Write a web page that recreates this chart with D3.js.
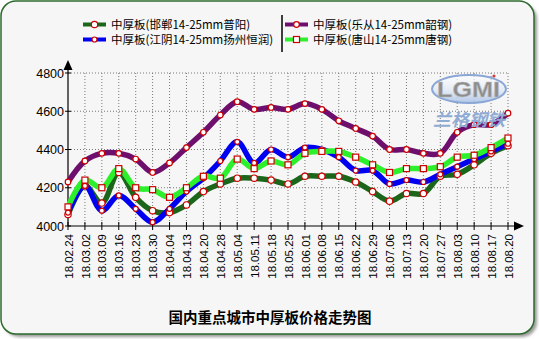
<!DOCTYPE html>
<html>
<head>
<meta charset="utf-8">
<script src="https://cdn.jsdelivr.net/npm/d3@7"></script>
<style>
  html, body { margin: 0; padding: 0; background: #ffffff; }
  svg { display: block; }
</style>
</head>
<body>
<svg id="chart" width="539" height="339"></svg>
<script>
// Weekly dates (yy.mm.dd)
const categories = ["18.02.24","18.03.02","18.03.09","18.03.16","18.03.23","18.03.30","18.04.04",
  "18.04.13","18.04.20","18.04.28","18.05.04","18.05.11","18.05.18","18.05.25","18.06.01",
  "18.06.08","18.06.15","18.06.22","18.06.29","18.07.06","18.07.13","18.07.20","18.07.27",
  "18.08.03","18.08.10","18.08.17","18.08.20"];

// Prices, yuan/ton
const handan = [4060,4210,4120,4280,4150,4080,4070,4110,4180,4220,4250,4250,4240,4220,4260,
  4260,4260,4230,4180,4130,4170,4170,4260,4270,4320,4380,4420];
const jiangyin = [4070,4210,4080,4160,4090,4020,4090,4180,4250,4340,4440,4330,4400,4360,4410,
  4400,4360,4290,4290,4220,4240,4230,4270,4310,4350,4390,4430];
const lecong = [4230,4340,4380,4380,4350,4280,4330,4410,4490,4580,4650,4610,4620,4610,4640,
  4610,4550,4510,4470,4400,4400,4380,4380,4490,4530,4530,4590];
const tangshan = [4100,4240,4200,4300,4200,4190,4150,4200,4260,4250,4350,4300,4340,4320,4380,
  4390,4390,4360,4320,4280,4300,4300,4310,4360,4370,4410,4460];

const seriesNames = ["中厚板(邯郸14-25mm普阳)","中厚板(江阴14-25mm扬州恒润)",
  "中厚板(乐从14-25mm韶钢)","中厚板(唐山14-25mm唐钢)"];
const yTicks = [4000,4200,4400,4600,4800];
const title = "国内重点城市中厚板价格走势图";

const series = [
  {name: seriesNames[0], values: handan,   color: "#1b661b", marker: "circle", r: 3.2},
  {name: seriesNames[2], values: lecong,   color: "#6e0f6e", marker: "circle", r: 2.8},
  {name: seriesNames[1], values: jiangyin, color: "#0000f0", marker: "circle", r: 2.5},
  {name: seriesNames[3], values: tangshan, color: "#2cf02c", marker: "square", r: 3}
];

const svg = d3.select("#chart");
const defs = svg.append("defs");

// frame with soft shadow
const shadow = defs.append("filter").attr("id", "shadow").attr("x", "-5%").attr("y", "-5%")
  .attr("width", "115%").attr("height", "115%");
shadow.append("feGaussianBlur").attr("stdDeviation", 1.5);

svg.append("rect").attr("x", 4).attr("y", 4).attr("width", 533).attr("height", 333)
  .attr("rx", 15).attr("fill", "#9a9a9a").attr("filter", "url(#shadow)");
svg.append("rect").attr("x", 1).attr("y", 1).attr("width", 533).attr("height", 333)
  .attr("rx", 15).attr("fill", "#f6f6f6").attr("stroke", "#2d6b2d").attr("stroke-width", 1.5);

const x = d3.scalePoint().domain(categories).range([68, 508]);
const y = d3.scaleLinear().domain([4000, 4800]).range([226, 73]);

const plot = svg.append("g");

// dotted grid
plot.append("g").selectAll("line").data(categories.slice(1)).join("line")
  .attr("x1", d => x(d)).attr("x2", d => x(d)).attr("y1", y(4800)).attr("y2", y(4000))
  .attr("stroke", "#7a7a7a").attr("stroke-width", 1).attr("stroke-dasharray", "1,2");
plot.append("g").selectAll("line").data(yTicks.slice(1)).join("line")
  .attr("x1", x(categories[0])).attr("x2", x(categories[categories.length - 1]))
  .attr("y1", d => y(d)).attr("y2", d => y(d))
  .attr("stroke", "#7a7a7a").attr("stroke-width", 1).attr("stroke-dasharray", "1,2");

// logo
const grad = defs.append("linearGradient").attr("id", "logoFill")
  .attr("x1", 0).attr("y1", 0).attr("x2", 0).attr("y2", 1);
grad.append("stop").attr("offset", "0%").attr("stop-color", "#ffffff").attr("stop-opacity", 0.6);
grad.append("stop").attr("offset", "55%").attr("stop-color", "#dfe8f5").attr("stop-opacity", 0.8);
grad.append("stop").attr("offset", "100%").attr("stop-color", "#a9c1e6").attr("stop-opacity", 0.9);
const logo = svg.append("g");
logo.append("ellipse").attr("cx", 469).attr("cy", 89).attr("rx", 37).attr("ry", 14)
  .attr("fill", "url(#logoFill)").attr("stroke", "#8aa6d6").attr("stroke-width", 2);
logo.append("text").attr("x", 437).attr("y", 97).attr("textLength", 63)
  .attr("lengthAdjust", "spacingAndGlyphs")
  .attr("font-family", "Liberation Sans, Arial, sans-serif").attr("font-weight", "bold")
  .attr("font-size", 22).attr("fill", "#8c8c8c").attr("stroke", "#bdbdbd").attr("stroke-width", 0.6)
  .text("LGMI");
logo.append("circle").attr("cx", 494).attr("cy", 76).attr("r", 1.6).attr("fill", "#d04040");
logo.append("text").attr("x", 433).attr("y", 126).attr("textLength", 72)
  .attr("lengthAdjust", "spacingAndGlyphs")
  .attr("font-family", "Noto Sans CJK SC, sans-serif").attr("font-style", "italic")
  .attr("font-weight", "bold")
  .attr("font-size", 17).attr("fill", "#8fabd4")
  .text("兰格钢铁");

// axes
const axisColor = "#000";
plot.append("line").attr("x1", 68).attr("x2", 68).attr("y1", 226).attr("y2", 66)
  .attr("stroke", axisColor).attr("stroke-width", 1.2);
plot.append("path").attr("d", "M68,60 L63.5,70 L72.5,70 Z").attr("fill", axisColor);
plot.append("line").attr("x1", 68).attr("x2", 516).attr("y1", 226).attr("y2", 226)
  .attr("stroke", axisColor).attr("stroke-width", 1.2);
plot.append("path").attr("d", "M524,226 L514,221.5 L514,230.5 Z").attr("fill", axisColor);

const yAxis = d3.axisLeft(y).tickValues(yTicks).tickFormat(d3.format("d"))
  .tickSize(0).tickPadding(4);
const yg = plot.append("g").attr("transform", "translate(68,0)").call(yAxis);
yg.select(".domain").remove();
yg.selectAll("text").attr("font-family", "Liberation Sans, Arial, sans-serif")
  .attr("font-size", 12.5).attr("fill", "#000");
// small ticks crossing the axis
plot.append("g").selectAll("line").data(yTicks).join("line")
  .attr("x1", 65).attr("x2", 71).attr("y1", d => y(d)).attr("y2", d => y(d))
  .attr("stroke", axisColor).attr("stroke-width", 1);

const xAxis = d3.axisBottom(x).tickSize(0).tickPadding(0);
const xg = plot.append("g").attr("transform", "translate(0,226)").call(xAxis);
xg.select(".domain").remove();
xg.selectAll("text")
  .attr("font-family", "Liberation Sans, Arial, sans-serif").attr("font-size", 11.5)
  .attr("fill", "#000")
  .attr("text-anchor", "end")
  .attr("transform", "rotate(-90)")
  .attr("x", -8).attr("y", 0).attr("dy", "0.36em");
plot.append("g").selectAll("line").data(categories).join("line")
  .attr("x1", d => x(d)).attr("x2", d => x(d)).attr("y1", 222).attr("y2", 230)
  .attr("stroke", axisColor).attr("stroke-width", 1);

// series lines
const line = d3.line()
  .x((d, i) => x(categories[i]))
  .y(d => y(d))
  .curve(d3.curveCatmullRom.alpha(0.5));

plot.append("g").selectAll("path").data(series).join("path")
  .attr("d", s => line(s.values))
  .attr("fill", "none").attr("stroke", s => s.color)
  .attr("stroke-width", 5.5).attr("stroke-linejoin", "round").attr("stroke-linecap", "round");

function drawMarker(g, s, cx, cy) {
  if (s.marker === "square") {
    g.append("rect").attr("x", cx - s.r).attr("y", cy - s.r)
      .attr("width", s.r * 2).attr("height", s.r * 2)
      .attr("fill", "#fff").attr("stroke", "#cc0000").attr("stroke-width", 1.2);
  } else {
    g.append("circle").attr("cx", cx).attr("cy", cy).attr("r", s.r)
      .attr("fill", "#fff").attr("stroke", "#cc0000").attr("stroke-width", 1.2);
  }
}

const markers = plot.append("g");
series.forEach(s => {
  s.values.forEach((v, i) => drawMarker(markers, s, x(categories[i]), y(v)));
});

// legend
const legend = svg.append("g");
const legendItems = [
  {s: series[0], lx: 83, ty: 24.5},
  {s: series[2], lx: 83, ty: 39.5},
  {s: series[1], lx: 285, ty: 24.5},
  {s: series[3], lx: 285, ty: 39.5}
];
legendItems.forEach(it => {
  legend.append("line").attr("x1", it.lx).attr("x2", it.lx + 23)
    .attr("y1", it.ty).attr("y2", it.ty)
    .attr("stroke", it.s.color).attr("stroke-width", 4);
  drawMarker(legend, it.s, it.lx + 11.5, it.ty);
  legend.append("text").attr("x", it.lx + 28).attr("y", it.ty).attr("dy", "0.36em")
    .attr("font-family", "Noto Sans CJK SC, sans-serif").attr("font-size", 11.5)
    .attr("fill", "#000").text(it.s.name);
});
legend.append("line").attr("x1", 282).attr("x2", 282).attr("y1", 15).attr("y2", 52)
  .attr("stroke", "#000").attr("stroke-width", 1.5);

// title
svg.append("text").attr("x", 270).attr("y", 323).attr("text-anchor", "middle")
  .attr("font-family", "Noto Sans CJK SC, sans-serif").attr("font-weight", "bold")
  .attr("font-size", 14.5).attr("fill", "#000").text(title);
</script>
</body>
</html>
